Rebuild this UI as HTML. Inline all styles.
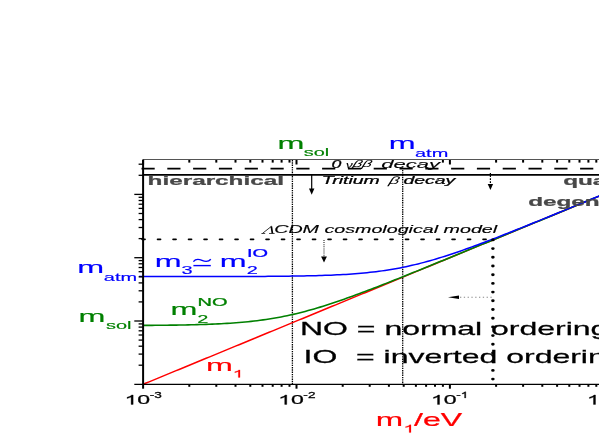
<!DOCTYPE html>
<html><head><meta charset="utf-8"><title>neutrino masses</title>
<style>html,body{margin:0;padding:0;background:#fff;}svg{display:block;will-change:transform}text{font-family:"Liberation Sans",sans-serif;}</style></head><body>
<svg width="599" height="436" viewBox="0 0 599 436">
<rect width="599" height="436" fill="#fff"/>
<line x1="292.4" y1="160.0" x2="292.4" y2="384.3" stroke="#000" stroke-width="1.3" stroke-dasharray="1.4 0.9"/>
<line x1="402.7" y1="167.6" x2="402.7" y2="384.3" stroke="#000" stroke-width="1.3" stroke-dasharray="1.4 0.9"/>
<polyline points="143.1,384.30 146.1,383.06 149.1,381.82 152.1,380.59 155.1,379.35 158.1,378.11 161.1,376.87 164.1,375.63 167.1,374.40 170.1,373.16 173.1,371.92 176.1,370.68 179.1,369.44 182.1,368.21 185.1,366.97 188.1,365.73 191.1,364.49 194.1,363.26 197.1,362.02 200.1,360.78 203.1,359.54 206.1,358.30 209.1,357.07 212.1,355.83 215.1,354.59 218.1,353.35 221.1,352.11 224.1,350.88 227.1,349.64 230.1,348.40 233.1,347.16 236.1,345.92 239.1,344.69 242.1,343.45 245.1,342.21 248.1,340.97 251.1,339.73 254.1,338.50 257.1,337.26 260.1,336.02 263.1,334.78 266.1,333.54 269.1,332.31 272.1,331.07 275.1,329.83 278.1,328.59 281.1,327.35 284.1,326.12 287.1,324.88 290.1,323.64 293.1,322.40 296.1,321.17 299.1,319.93 302.1,318.69 305.1,317.45 308.1,316.21 311.1,314.98 314.1,313.74 317.1,312.50 320.1,311.26 323.1,310.02 326.1,308.79 329.1,307.55 332.1,306.31 335.1,305.07 338.1,303.83 341.1,302.60 344.1,301.36 347.1,300.12 350.1,298.88 353.1,297.64 356.1,296.41 359.1,295.17 362.1,293.93 365.1,292.69 368.1,291.45 371.1,290.22 374.1,288.98 377.1,287.74 380.1,286.50 383.1,285.26 386.1,284.03 389.1,282.79 392.1,281.55 395.1,280.31 398.1,279.08 401.1,277.84 404.1,276.60 407.1,275.36 410.1,274.12 413.1,272.89 416.1,271.65 419.1,270.41 422.1,269.17 425.1,267.93 428.1,266.70 431.1,265.46 434.1,264.22 437.1,262.98 440.1,261.74 443.1,260.51 446.1,259.27 449.1,258.03 452.1,256.79 455.1,255.55 458.1,254.32 461.1,253.08 464.1,251.84 467.1,250.60 470.1,249.36 473.1,248.13 476.1,246.89 479.1,245.65 482.1,244.41 485.1,243.17 488.1,241.94 491.1,240.70 494.1,239.46 497.1,238.22 500.1,236.99 503.1,235.75 506.1,234.51 509.1,233.27 512.1,232.03 515.1,230.80 518.1,229.56 521.1,228.32 524.1,227.08 527.1,225.84 530.1,224.61 533.1,223.37 536.1,222.13 539.1,220.89 542.1,219.65 545.1,218.42 548.1,217.18 551.1,215.94 554.1,214.70 557.1,213.46 560.1,212.23 563.1,210.99 566.1,209.75 569.1,208.51 572.1,207.27 575.1,206.04 578.1,204.80 581.1,203.56 584.1,202.32 587.1,201.08 590.1,199.85 593.1,198.61 596.1,197.37 599.1,196.13" fill="none" stroke="#ff0000" stroke-width="1.5"/>
<polyline points="143.1,325.41 146.1,325.39 149.1,325.37 152.1,325.35 155.1,325.32 158.1,325.30 161.1,325.27 164.1,325.24 167.1,325.21 170.1,325.17 173.1,325.13 176.1,325.09 179.1,325.04 182.1,324.99 185.1,324.94 188.1,324.88 191.1,324.81 194.1,324.74 197.1,324.66 200.1,324.57 203.1,324.48 206.1,324.38 209.1,324.27 212.1,324.15 215.1,324.02 218.1,323.88 221.1,323.73 224.1,323.57 227.1,323.39 230.1,323.20 233.1,323.00 236.1,322.78 239.1,322.54 242.1,322.28 245.1,322.01 248.1,321.71 251.1,321.40 254.1,321.06 257.1,320.70 260.1,320.32 263.1,319.91 266.1,319.48 269.1,319.02 272.1,318.53 275.1,318.02 278.1,317.49 281.1,316.92 284.1,316.33 287.1,315.71 290.1,315.06 293.1,314.38 296.1,313.68 299.1,312.94 302.1,312.19 305.1,311.40 308.1,310.59 311.1,309.76 314.1,308.90 317.1,308.02 320.1,307.11 323.1,306.19 326.1,305.24 329.1,304.27 332.1,303.29 335.1,302.29 338.1,301.27 341.1,300.23 344.1,299.18 347.1,298.12 350.1,297.04 353.1,295.95 356.1,294.85 359.1,293.74 362.1,292.62 365.1,291.49 368.1,290.35 371.1,289.21 374.1,288.05 377.1,286.89 380.1,285.73 383.1,284.55 386.1,283.37 389.1,282.19 392.1,281.00 395.1,279.81 398.1,278.62 401.1,277.42 404.1,276.22 407.1,275.01 410.1,273.80 413.1,272.59 416.1,271.38 419.1,270.16 422.1,268.95 425.1,267.73 428.1,266.51 431.1,265.29 434.1,264.06 437.1,262.84 440.1,261.61 443.1,260.39 446.1,259.16 449.1,257.93 452.1,256.70 455.1,255.47 458.1,254.24 461.1,253.01 464.1,251.78 467.1,250.54 470.1,249.31 473.1,248.08 476.1,246.84 479.1,245.61 482.1,244.38 485.1,243.14 488.1,241.91 491.1,240.67 494.1,239.43 497.1,238.20 500.1,236.96 503.1,235.73 506.1,234.49 509.1,233.25 512.1,232.02 515.1,230.78 518.1,229.54 521.1,228.31 524.1,227.07 527.1,225.83 530.1,224.60 533.1,223.36 536.1,222.12 539.1,220.89 542.1,219.65 545.1,218.41 548.1,217.17 551.1,215.94 554.1,214.70 557.1,213.46 560.1,212.22 563.1,210.99 566.1,209.75 569.1,208.51 572.1,207.27 575.1,206.03 578.1,204.80 581.1,203.56 584.1,202.32 587.1,201.08 590.1,199.85 593.1,198.61 596.1,197.37 599.1,196.13" fill="none" stroke="#008000" stroke-width="1.6"/>
<polyline points="139.0,276.59 142.0,276.59 145.0,276.58 148.0,276.58 151.0,276.58 154.0,276.58 157.0,276.58 160.0,276.58 163.0,276.58 166.0,276.58 169.0,276.58 172.0,276.58 175.0,276.58 178.0,276.58 181.0,276.57 184.0,276.57 187.0,276.57 190.0,276.57 193.0,276.57 196.0,276.56 199.0,276.56 202.0,276.56 205.0,276.56 208.0,276.55 211.0,276.55 214.0,276.55 217.0,276.54 220.0,276.54 223.0,276.53 226.0,276.53 229.0,276.52 232.0,276.51 235.0,276.51 238.0,276.50 241.0,276.49 244.0,276.48 247.0,276.47 250.0,276.46 253.0,276.44 256.0,276.43 259.0,276.42 262.0,276.40 265.0,276.38 268.0,276.36 271.0,276.34 274.0,276.32 277.0,276.29 280.0,276.26 283.0,276.23 286.0,276.20 289.0,276.16 292.0,276.12 295.0,276.08 298.0,276.03 301.0,275.98 304.0,275.93 307.0,275.87 310.0,275.80 313.0,275.73 316.0,275.65 319.0,275.56 322.0,275.47 325.0,275.37 328.0,275.26 331.0,275.14 334.0,275.01 337.0,274.87 340.0,274.72 343.0,274.56 346.0,274.38 349.0,274.19 352.0,273.98 355.0,273.76 358.0,273.52 361.0,273.26 364.0,272.99 367.0,272.69 370.0,272.37 373.0,272.04 376.0,271.68 379.0,271.29 382.0,270.88 385.0,270.45 388.0,269.99 391.0,269.51 394.0,268.99 397.0,268.45 400.0,267.89 403.0,267.29 406.0,266.67 409.0,266.02 412.0,265.34 415.0,264.64 418.0,263.90 421.0,263.14 424.0,262.36 427.0,261.55 430.0,260.71 433.0,259.85 436.0,258.97 439.0,258.06 442.0,257.14 445.0,256.19 448.0,255.22 451.0,254.24 454.0,253.23 457.0,252.21 460.0,251.18 463.0,250.13 466.0,249.06 469.0,247.99 472.0,246.90 475.0,245.80 478.0,244.68 481.0,243.56 484.0,242.43 487.0,241.29 490.0,240.15 493.0,238.99 496.0,237.83 499.0,236.66 502.0,235.49 505.0,234.31 508.0,233.13 511.0,231.94 514.0,230.75 517.0,229.56 520.0,228.36 523.0,227.15 526.0,225.95 529.0,224.74 532.0,223.53 535.0,222.32 538.0,221.10 541.0,219.88 544.0,218.67 547.0,217.44 550.0,216.22 553.0,215.00 556.0,213.78 559.0,212.55 562.0,211.32 565.0,210.09 568.0,208.87 571.0,207.64 574.0,206.41 577.0,205.18 580.0,203.94 583.0,202.71 586.0,201.48 589.0,200.25 592.0,199.01 595.0,197.78 598.0,196.55 601.0,195.31" fill="none" stroke="#0000ff" stroke-width="1.5"/>
<line x1="143.1" y1="159.5" x2="599" y2="159.5" stroke="#555" stroke-width="1.2"/>
<line x1="143.1" y1="159.5" x2="143.1" y2="388.7" stroke="#000" stroke-width="2"/>
<line x1="134.3" y1="384.3" x2="599" y2="384.3" stroke="#000" stroke-width="1.25"/>
<line x1="143.1" y1="160.0" x2="143.1" y2="164.5" stroke="#000" stroke-width="2"/>
<line x1="189.3" y1="384.3" x2="189.3" y2="386.8" stroke="#000" stroke-width="2"/>
<line x1="189.3" y1="160.0" x2="189.3" y2="162.6" stroke="#000" stroke-width="2"/>
<line x1="216.3" y1="384.3" x2="216.3" y2="386.8" stroke="#000" stroke-width="2"/>
<line x1="216.3" y1="160.0" x2="216.3" y2="162.6" stroke="#000" stroke-width="2"/>
<line x1="235.5" y1="384.3" x2="235.5" y2="386.8" stroke="#000" stroke-width="2"/>
<line x1="235.5" y1="160.0" x2="235.5" y2="162.6" stroke="#000" stroke-width="2"/>
<line x1="250.3" y1="384.3" x2="250.3" y2="386.8" stroke="#000" stroke-width="2"/>
<line x1="250.3" y1="160.0" x2="250.3" y2="162.6" stroke="#000" stroke-width="2"/>
<line x1="262.5" y1="384.3" x2="262.5" y2="386.8" stroke="#000" stroke-width="2"/>
<line x1="262.5" y1="160.0" x2="262.5" y2="162.6" stroke="#000" stroke-width="2"/>
<line x1="272.7" y1="384.3" x2="272.7" y2="386.8" stroke="#000" stroke-width="2"/>
<line x1="272.7" y1="160.0" x2="272.7" y2="162.6" stroke="#000" stroke-width="2"/>
<line x1="281.6" y1="384.3" x2="281.6" y2="386.8" stroke="#000" stroke-width="2"/>
<line x1="281.6" y1="160.0" x2="281.6" y2="162.6" stroke="#000" stroke-width="2"/>
<line x1="289.5" y1="384.3" x2="289.5" y2="386.8" stroke="#000" stroke-width="2"/>
<line x1="289.5" y1="160.0" x2="289.5" y2="162.6" stroke="#000" stroke-width="2"/>
<line x1="296.5" y1="384.3" x2="296.5" y2="388.7" stroke="#000" stroke-width="2"/>
<line x1="296.5" y1="160.0" x2="296.5" y2="164.5" stroke="#000" stroke-width="2"/>
<line x1="342.7" y1="384.3" x2="342.7" y2="386.8" stroke="#000" stroke-width="2"/>
<line x1="369.7" y1="384.3" x2="369.7" y2="386.8" stroke="#000" stroke-width="2"/>
<line x1="388.9" y1="384.3" x2="388.9" y2="386.8" stroke="#000" stroke-width="2"/>
<line x1="403.7" y1="384.3" x2="403.7" y2="386.8" stroke="#000" stroke-width="2"/>
<line x1="415.9" y1="384.3" x2="415.9" y2="386.8" stroke="#000" stroke-width="2"/>
<line x1="426.1" y1="384.3" x2="426.1" y2="386.8" stroke="#000" stroke-width="2"/>
<line x1="435.0" y1="384.3" x2="435.0" y2="386.8" stroke="#000" stroke-width="2"/>
<line x1="442.9" y1="384.3" x2="442.9" y2="386.8" stroke="#000" stroke-width="2"/>
<line x1="442.9" y1="160.0" x2="442.9" y2="162.6" stroke="#000" stroke-width="2"/>
<line x1="449.9" y1="384.3" x2="449.9" y2="388.7" stroke="#000" stroke-width="2"/>
<line x1="449.9" y1="160.0" x2="449.9" y2="164.5" stroke="#000" stroke-width="2"/>
<line x1="496.1" y1="384.3" x2="496.1" y2="386.8" stroke="#000" stroke-width="2"/>
<line x1="496.1" y1="160.0" x2="496.1" y2="162.6" stroke="#000" stroke-width="2"/>
<line x1="523.1" y1="384.3" x2="523.1" y2="386.8" stroke="#000" stroke-width="2"/>
<line x1="523.1" y1="160.0" x2="523.1" y2="162.6" stroke="#000" stroke-width="2"/>
<line x1="542.3" y1="384.3" x2="542.3" y2="386.8" stroke="#000" stroke-width="2"/>
<line x1="542.3" y1="160.0" x2="542.3" y2="162.6" stroke="#000" stroke-width="2"/>
<line x1="557.1" y1="384.3" x2="557.1" y2="386.8" stroke="#000" stroke-width="2"/>
<line x1="557.1" y1="160.0" x2="557.1" y2="162.6" stroke="#000" stroke-width="2"/>
<line x1="569.3" y1="384.3" x2="569.3" y2="386.8" stroke="#000" stroke-width="2"/>
<line x1="569.3" y1="160.0" x2="569.3" y2="162.6" stroke="#000" stroke-width="2"/>
<line x1="579.5" y1="384.3" x2="579.5" y2="386.8" stroke="#000" stroke-width="2"/>
<line x1="579.5" y1="160.0" x2="579.5" y2="162.6" stroke="#000" stroke-width="2"/>
<line x1="588.4" y1="384.3" x2="588.4" y2="386.8" stroke="#000" stroke-width="2"/>
<line x1="588.4" y1="160.0" x2="588.4" y2="162.6" stroke="#000" stroke-width="2"/>
<line x1="596.3" y1="384.3" x2="596.3" y2="386.8" stroke="#000" stroke-width="2"/>
<line x1="596.3" y1="160.0" x2="596.3" y2="162.6" stroke="#000" stroke-width="2"/>
<line x1="138.6" y1="365.2" x2="143.1" y2="365.2" stroke="#000" stroke-width="1.3"/>
<line x1="138.6" y1="354.1" x2="143.1" y2="354.1" stroke="#000" stroke-width="1.3"/>
<line x1="138.6" y1="346.2" x2="143.1" y2="346.2" stroke="#000" stroke-width="1.3"/>
<line x1="138.6" y1="340.1" x2="143.1" y2="340.1" stroke="#000" stroke-width="1.3"/>
<line x1="138.6" y1="335.0" x2="143.1" y2="335.0" stroke="#000" stroke-width="1.3"/>
<line x1="138.6" y1="330.8" x2="143.1" y2="330.8" stroke="#000" stroke-width="1.3"/>
<line x1="138.6" y1="327.1" x2="143.1" y2="327.1" stroke="#000" stroke-width="1.3"/>
<line x1="138.6" y1="323.9" x2="143.1" y2="323.9" stroke="#000" stroke-width="1.3"/>
<line x1="134.3" y1="321.0" x2="143.1" y2="321.0" stroke="#000" stroke-width="1.3"/>
<line x1="138.6" y1="301.9" x2="143.1" y2="301.9" stroke="#000" stroke-width="1.3"/>
<line x1="138.6" y1="290.8" x2="143.1" y2="290.8" stroke="#000" stroke-width="1.3"/>
<line x1="138.6" y1="282.9" x2="143.1" y2="282.9" stroke="#000" stroke-width="1.3"/>
<line x1="138.6" y1="276.8" x2="143.1" y2="276.8" stroke="#000" stroke-width="1.3"/>
<line x1="138.6" y1="271.7" x2="143.1" y2="271.7" stroke="#000" stroke-width="1.3"/>
<line x1="138.6" y1="267.5" x2="143.1" y2="267.5" stroke="#000" stroke-width="1.3"/>
<line x1="138.6" y1="263.8" x2="143.1" y2="263.8" stroke="#000" stroke-width="1.3"/>
<line x1="138.6" y1="260.6" x2="143.1" y2="260.6" stroke="#000" stroke-width="1.3"/>
<line x1="134.3" y1="257.7" x2="143.1" y2="257.7" stroke="#000" stroke-width="1.3"/>
<line x1="138.6" y1="238.6" x2="143.1" y2="238.6" stroke="#000" stroke-width="1.3"/>
<line x1="138.6" y1="227.5" x2="143.1" y2="227.5" stroke="#000" stroke-width="1.3"/>
<line x1="138.6" y1="219.6" x2="143.1" y2="219.6" stroke="#000" stroke-width="1.3"/>
<line x1="138.6" y1="213.5" x2="143.1" y2="213.5" stroke="#000" stroke-width="1.3"/>
<line x1="138.6" y1="208.4" x2="143.1" y2="208.4" stroke="#000" stroke-width="1.3"/>
<line x1="138.6" y1="204.2" x2="143.1" y2="204.2" stroke="#000" stroke-width="1.3"/>
<line x1="138.6" y1="200.5" x2="143.1" y2="200.5" stroke="#000" stroke-width="1.3"/>
<line x1="138.6" y1="197.3" x2="143.1" y2="197.3" stroke="#000" stroke-width="1.3"/>
<line x1="134.3" y1="194.4" x2="143.1" y2="194.4" stroke="#000" stroke-width="1.3"/>
<line x1="138.6" y1="175.3" x2="143.1" y2="175.3" stroke="#000" stroke-width="1.3"/>
<line x1="138.6" y1="164.2" x2="143.1" y2="164.2" stroke="#000" stroke-width="1.3"/>
<line x1="141.5" y1="168.6" x2="599" y2="168.6" stroke="#000" stroke-width="1.8" stroke-dasharray="13.2 12.6"/>
<line x1="143.1" y1="174.8" x2="599" y2="174.8" stroke="#000" stroke-width="1.7"/>
<line x1="142.1" y1="239.3" x2="492" y2="239.3" stroke="#000" stroke-width="1.8" stroke-linecap="round" stroke-dasharray="2.9 12.6"/>
<g transform="translate(492.9,0) scale(1.22,1)"><line x1="0" y1="239.9" x2="0" y2="384.3" stroke="#000" stroke-width="2.9" stroke-linecap="round" stroke-dasharray="0 8.7"/></g>
<line x1="311.7" y1="175" x2="311.7" y2="189.1" stroke="#000" stroke-width="1.2"/>
<polygon points="309.0,188.6 314.4,188.6 311.7,194.7" fill="#000"/>
<line x1="490.4" y1="173" x2="490.4" y2="184.5" stroke="#000" stroke-width="1.2" stroke-dasharray="4 1.2 1.8 1.2 1.8 1.2 1.8 1.2"/>
<polygon points="487.7,184.0 493.09999999999997,184.0 490.4,189.9" fill="#000"/>
<line x1="324" y1="240" x2="324" y2="256.9" stroke="#333" stroke-width="1.2" stroke-dasharray="1 1.1"/>
<polygon points="321.1,256.4 326.9,256.4 324,262.4" fill="#000"/>
<line x1="460" y1="297.2" x2="493" y2="297.2" stroke="#888" stroke-width="1.1" stroke-dasharray="1.3 2.5"/>
<polygon points="448,297.2 459,295.4 459,299" fill="#000"/>
<text transform="translate(277.46,149.10) scale(1.9,1)" font-size="17" fill="#008000" stroke="#008000" stroke-width="0.15" >m</text>
<text transform="translate(303.80,155.80) scale(1.9,1)" font-size="10.5" fill="#008000" stroke="#008000" stroke-width="0.15" >sol</text>
<text transform="translate(388.86,149.40) scale(1.9,1)" font-size="17" fill="#0000ff" stroke="#0000ff" stroke-width="0.15" >m</text>
<text transform="translate(415.00,156.50) scale(1.9,1)" font-size="10.5" fill="#0000ff" stroke="#0000ff" stroke-width="0.15" >atm</text>
<text transform="translate(77.36,273.30) scale(1.9,1)" font-size="17" fill="#0000ff" stroke="#0000ff" stroke-width="0.15" >m</text>
<text transform="translate(103.80,280.90) scale(1.9,1)" font-size="10.5" fill="#0000ff" stroke="#0000ff" stroke-width="0.15" >atm</text>
<text transform="translate(78.56,321.80) scale(1.9,1)" font-size="17" fill="#008000" stroke="#008000" stroke-width="0.15" >m</text>
<text transform="translate(106.00,329.00) scale(1.9,1)" font-size="10.5" fill="#008000" stroke="#008000" stroke-width="0.15" >sol</text>
<text transform="translate(154.76,266.50) scale(1.9,1)" font-size="17" fill="#0000ff" stroke="#0000ff" stroke-width="0.15" >m</text>
<text transform="translate(181.60,274.00) scale(1.9,1)" font-size="10.5" fill="#0000ff" stroke="#0000ff" stroke-width="0.15" >3</text>
<path d="M193.4,261.6 C195.5,258.9 198.5,258.9 202,260.4 C205.5,261.9 208.5,261.9 210.8,259.2" fill="none" stroke="#0000ff" stroke-width="1.4"/>
<line x1="193.4" y1="265.6" x2="210.8" y2="265.6" stroke="#0000ff" stroke-width="1.4"/>
<text transform="translate(219.86,266.50) scale(1.9,1)" font-size="17" fill="#0000ff" stroke="#0000ff" stroke-width="0.15" >m</text>
<text transform="translate(246.70,274.00) scale(1.9,1)" font-size="10.5" fill="#0000ff" stroke="#0000ff" stroke-width="0.15" >2</text>
<text transform="translate(247.00,257.30) scale(1.9,1)" font-size="10.5" fill="#0000ff" stroke="#0000ff" stroke-width="0.25" >IO</text>
<text transform="translate(170.46,315.30) scale(1.9,1)" font-size="17" fill="#008000" stroke="#008000" stroke-width="0.15" >m</text>
<text transform="translate(197.20,322.80) scale(1.9,1)" font-size="10.5" fill="#008000" stroke="#008000" stroke-width="0.15" >2</text>
<text transform="translate(197.50,305.60) scale(1.9,1)" font-size="10.5" fill="#008000" stroke="#008000" stroke-width="0.25" >NO</text>
<text transform="translate(206.06,370.50) scale(1.9,1)" font-size="17" fill="#ff0000" stroke="#ff0000" stroke-width="0.15" >m</text>
<path transform="translate(232.60,377.40) scale(19.950,10.5)" d="M.373,0H.285V-.56Q.21,-.49 .109,-.454V-.539Q.26,-.6 .315,-.716H.373Z" fill="#ff0000" stroke="#ff0000" stroke-width="0.0143"/>
<text transform="translate(375.82,425.50) scale(1.88,1)" font-size="17.5" fill="#ff0000" stroke="#ff0000" stroke-width="0.15" >m</text>
<path transform="translate(403.20,432.60) scale(20.900,11)" d="M.373,0H.285V-.56Q.21,-.49 .109,-.454V-.539Q.26,-.6 .315,-.716H.373Z" fill="#ff0000" stroke="#ff0000" stroke-width="0.0136"/>
<text transform="translate(414.00,425.70) scale(1.78,1)" font-size="18" fill="#ff0000" stroke="#ff0000" stroke-width="0.25" >/eV</text>
<text transform="translate(147.60,185.40) scale(1.8,1)" font-size="13.5" fill="#484848" stroke="#484848" stroke-width="0.25" font-weight="bold">hierarchical</text>
<text transform="translate(563.20,184.80) scale(1.8,1)" font-size="13.5" fill="#484848" stroke="#484848" stroke-width="0.25" font-weight="bold">quasi</text>
<text transform="translate(528.20,206.40) scale(1.8,1)" font-size="13.5" fill="#484848" stroke="#484848" stroke-width="0.25" font-weight="bold">degenerate</text>
<text transform="translate(331.60,167.60) scale(1.7,1)" font-size="10.4" fill="#000" stroke="#000" stroke-width="0.25" font-style="italic">0</text>
<text transform="translate(346.00,167.50) scale(1.6,1)" font-size="8.4" fill="#000" stroke="#000" stroke-width="0.1" font-style="italic">&#957;</text>
<text transform="translate(351.90,167.40) scale(1.72,1) skewX(-10)" font-size="9.8" fill="#000" stroke="#000" stroke-width="0" font-style="italic">&#946;&#946;</text>
<text transform="translate(381.20,167.60) scale(2.2,1)" font-size="10" fill="#000" stroke="#000" stroke-width="0.1" font-style="italic">decay</text>
<text transform="translate(321.80,183.60) scale(1.8,1)" font-size="10.8" fill="#000" stroke="#000" stroke-width="0.25" font-style="italic">Tritium</text>
<text transform="translate(388.20,183.60) scale(1.7,1) skewX(-10)" font-size="10.6" fill="#000" stroke="#000" stroke-width="0" font-style="italic">&#946;</text>
<text transform="translate(403.40,183.60) scale(1.8,1)" font-size="10.8" fill="#000" stroke="#000" stroke-width="0.25" font-style="italic">decay</text>
<g stroke="#000" fill="none"><path d="M262.6,233.3L271.6,226.2" stroke-width="0.8"/><path d="M271.3,226.3L272.4,233.4" stroke-width="1.7"/><path d="M261.4,233.5H265.2M269,233.5H274.6" stroke-width="0.7"/></g>
<text transform="translate(274.20,233.40) scale(1.757,1)" font-size="11.2" fill="#000" stroke="#000" stroke-width="0.15" font-style="italic">CDM cosmological model</text>
<text transform="translate(300.00,335.40) scale(1.72,1)" font-size="18.6" fill="#000" stroke="#000" stroke-width="0.25" >NO = normal ordering</text>
<text transform="translate(303.50,362.90) scale(1.72,1)" font-size="18.6" fill="#000" stroke="#000" stroke-width="0.25" >IO</text>
<text transform="translate(356.00,362.90) scale(1.72,1)" font-size="18.6" fill="#000" stroke="#000" stroke-width="0.25" >= inverted ordering</text>
<path transform="translate(124.54,404.40) scale(23.056,13.1)" d="M.373,0H.285V-.56Q.21,-.49 .109,-.454V-.539Q.26,-.6 .315,-.716H.373Z" fill="#000" stroke="#000" stroke-width="0.0191"/>
<text transform="translate(137.35,404.40) scale(1.76,1)" font-size="13.1" fill="#000" stroke="#000" stroke-width="0.25" >0</text>
<text transform="translate(149.77,397.90) scale(1.6,1)" font-size="8.5" fill="#000" stroke="#000" stroke-width="0.25" >-3</text>
<path transform="translate(278.14,404.40) scale(23.056,13.1)" d="M.373,0H.285V-.56Q.21,-.49 .109,-.454V-.539Q.26,-.6 .315,-.716H.373Z" fill="#000" stroke="#000" stroke-width="0.0191"/>
<text transform="translate(290.95,404.40) scale(1.76,1)" font-size="13.1" fill="#000" stroke="#000" stroke-width="0.25" >0</text>
<text transform="translate(303.37,397.90) scale(1.6,1)" font-size="8.5" fill="#000" stroke="#000" stroke-width="0.25" >-2</text>
<path transform="translate(430.94,404.40) scale(23.056,13.1)" d="M.373,0H.285V-.56Q.21,-.49 .109,-.454V-.539Q.26,-.6 .315,-.716H.373Z" fill="#000" stroke="#000" stroke-width="0.0191"/>
<text transform="translate(443.75,404.40) scale(1.76,1)" font-size="13.1" fill="#000" stroke="#000" stroke-width="0.25" >0</text>
<text transform="translate(456.17,397.90) scale(1.6,1)" font-size="8.5" fill="#000" stroke="#000" stroke-width="0.25" >-</text>
<path transform="translate(460.70,397.90) scale(13.600,8.5)" d="M.373,0H.285V-.56Q.21,-.49 .109,-.454V-.539Q.26,-.6 .315,-.716H.373Z" fill="#000" stroke="#000" stroke-width="0.0294"/>
<path transform="translate(586.90,404.40) scale(23.056,13.1)" d="M.373,0H.285V-.56Q.21,-.49 .109,-.454V-.539Q.26,-.6 .315,-.716H.373Z" fill="#000" stroke="#000" stroke-width="0.0191"/>
<text transform="translate(599.72,404.40) scale(1.76,1)" font-size="13.1" fill="#000" stroke="#000" stroke-width="0.25" >0</text>
<text transform="translate(612.14,397.90) scale(1.6,1)" font-size="8.5" fill="#000" stroke="#000" stroke-width="0.25" >0</text>
</svg></body></html>
